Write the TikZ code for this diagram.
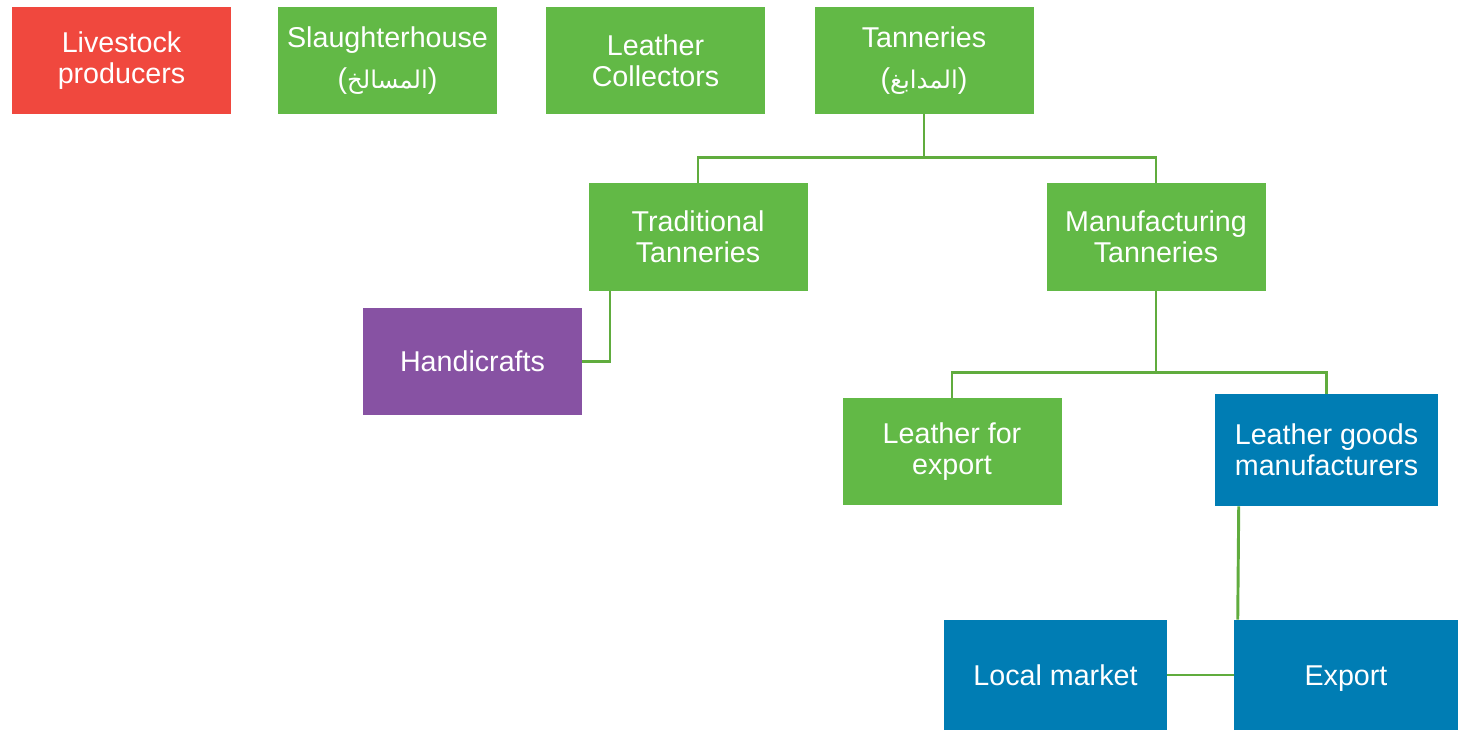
\documentclass[tikz,border=0pt]{standalone}
\usepackage{fontspec}
\setmainfont{Liberation Sans}
\newfontfamily\arabicfont[Script=Arabic,Scale=0.85]{DejaVu Sans}
\TeXXeTstate=1
\usetikzlibrary{calc}
\definecolor{boxgreen}{RGB}{98,185,70}
\definecolor{boxred}{RGB}{240,72,62}
\definecolor{boxpurple}{RGB}{135,82,163}
\definecolor{boxblue}{RGB}{0,125,180}
\definecolor{linegreen}{RGB}{96,172,62}
\tikzset{
  box/.style={rectangle, draw=none, text=white, inner sep=0pt, align=center,
    minimum width=164.25pt, minimum height=80.25pt,
    font=\fontsize{21.5}{23.5}\selectfont},
  gbox/.style={box, fill=boxgreen},
  oneline/.style={text height=15.5pt, text depth=0pt},
  conn/.style={draw=linegreen, line width=2.2pt}
}
\begin{document}
\begin{tikzpicture}[x=0.75pt,y=-0.75pt]
\useasboundingbox (0,0) rectangle (1474,730);
\node[box, fill=boxred] (live) at (121.5,60.5) {\raisebox{-1.1pt}{Livestock}\\\raisebox{-1.1pt}{producers}};
\node[gbox] (slau) at (387.5,60.5) {\raisebox{-1.5pt}{Slaughterhouse}\\[7pt]\raisebox{-1.5pt}{({\arabicfont\beginR المسالخ\endR})}};
\node[gbox] (coll) at (655.5,60.5) {Leather\\Collectors};
\node[gbox] (tan) at (924,60.5) {\raisebox{-1.1pt}{Tanneries}\\[7pt]\raisebox{-1.1pt}{({\arabicfont\beginR المدابغ\endR})}};
\node[gbox, minimum height=81pt] (trad) at (698,237) {Traditional\\Tanneries};
\node[gbox, minimum height=81pt] (manu) at (1156,237) {Manufacturing\\Tanneries};
\node[box, fill=boxpurple, oneline] (hand) at (472.5,361.5) {Handicrafts};
\node[gbox] (lfe) at (952,451.5) {Leather for\\export};
\node[box, fill=boxblue, minimum width=167.25pt, minimum height=84pt] (lgm) at (1326.5,450) {Leather goods\\manufacturers};
\node[box, fill=boxblue, oneline, minimum width=167.25pt, minimum height=82.5pt] (loc) at (1055.5,675) {Local market};
\node[box, fill=boxblue, oneline, minimum width=168pt, minimum height=82.5pt] (exp) at (1346,675) {Export};

\draw[conn] (tan.south) -- ++(0,43) -| (trad.north);
\draw[conn] (tan.south) -- ++(0,43) -| (manu.north);
\draw[conn] ($(trad.south)+(-88,0)$) |- (hand.east);
\draw[conn] (manu.south) -- ++(0,81) -| (lfe.north);
\draw[conn] (manu.south) -- ++(0,81) -| (lgm.north);
\draw[conn] ($(lgm.south west)+(24,0)$) -- ($(exp.north west)+(4,0)$);
\draw[conn] (loc.east) -- (exp.west);
\end{tikzpicture}
\end{document}
